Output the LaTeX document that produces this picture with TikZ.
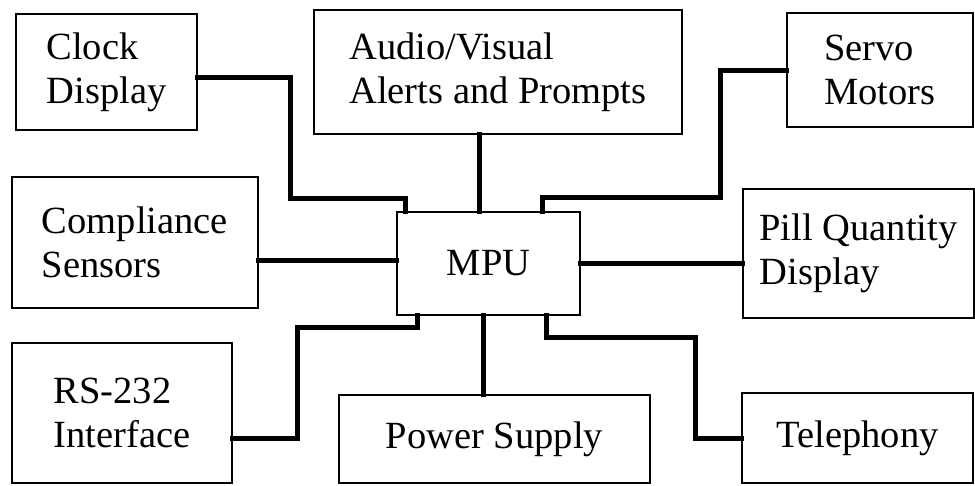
\documentclass[tikz,border=0pt]{standalone}
\usepackage{fontspec}
\setmainfont{Liberation Serif}
\usetikzlibrary{calc}

\begin{document}
\begin{tikzpicture}[x=1pt, y=-1pt,
  unit/.style={draw=black, line width=1.3pt, align=left, inner sep=2pt,
    font=\fontsize{38.5}{44}\selectfont},
  wire/.style={black, line width=5pt, line cap=rect}]
\useasboundingbox (0,0) rectangle (975,485);
\foreach \n/\x/\y/\w/\h/\txt in {
  clock/106.5/72/181/116/{Clock\\Display},
  audio/498/72/368/124/{Audio/Visual\\Alerts and Prompts},
  servo/880/70/186/114/{Servo\\Motors},
  comp/135/242.5/246/131/{Compliance\\Sensors},
  mpu/488.5/263.5/183/103/{MPU},
  pill/858.5/253.5/231/129/{Pill Quantity\\Display},
  rs/122/413/220/140/{RS-232\\Interface},
  power/494.5/439/311/88/{Power Supply},
  tel/857.5/438/231/90/{Telephony}} {
  \node[unit, minimum width=\w, minimum height=\h] (\n) at (\x,\y) {\txt};
}
\coordinate (cw) at ([yshift=3.5pt]mpu.west);
\draw[wire] ([yshift=-5pt]clock.east) -| (290,198) -| ([xshift=-83.5pt]mpu.north);
\draw[wire] ([xshift=-9.5pt]mpu.north) coordinate (an) -- (an |- audio.south);
\draw[wire] (servo.west) -| (720,197) -| ([xshift=53.5pt]mpu.north);
\draw[wire] (cw) -- (cw -| comp.east);
\draw[wire] (mpu.east) -- (mpu.east -| pill.west);
\draw[wire] ([yshift=-25pt]rs.east) -| (297,327) -| ([xshift=-71.5pt]mpu.south);
\draw[wire] ([xshift=-5.5pt]mpu.south) coordinate (ps) -- (ps |- power.north);
\draw[wire] ([xshift=57.5pt]mpu.south) |- (695,337) |- (tel.west);
\end{tikzpicture}
\end{document}
